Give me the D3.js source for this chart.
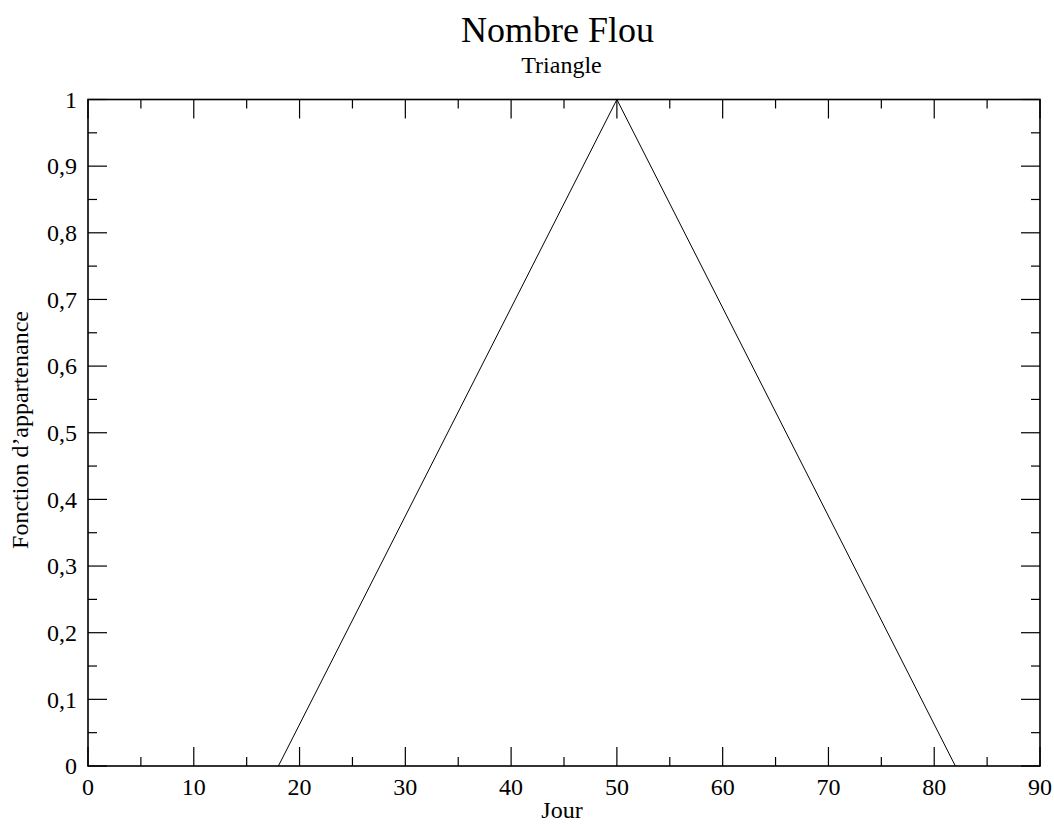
<!DOCTYPE html>
<html><head><meta charset="utf-8">
<script src="https://cdn.jsdelivr.net/npm/d3@7"></script>
<style>
html,body{margin:0;padding:0;background:#fff;}
svg{display:block;}
text{font-family:"Liberation Serif","DejaVu Serif",serif;fill:#000;}
</style></head>
<body>
<svg id="chart" width="1054" height="824"></svg>
<script>
const jours = [18, 50, 82];
const appartenance = [0, 1, 0];
const xTickValues = [0,10,20,30,40,50,60,70,80,90];
const yTickValues = [0,0.1,0.2,0.3,0.4,0.5,0.6,0.7,0.8,0.9,1];
const title = "Nombre Flou";
const subtitle = "Triangle";
const xLabel = "Jour";
const yLabel = "Fonction d\u2019appartenance";

const svg = d3.select("#chart");
const L = 88, R = 1040, T = 99.5, B = 766;
const x = d3.scaleLinear().domain([0,90]).range([L,R]);
const y = d3.scaleLinear().domain([0,1]).range([B,T]);
const fmt = d => d3.format(".1~f")(d).replace(".", ",");

const major = 19, minor = 9;
const g = svg.append("g");
// ticks
const xMinor = d3.range(5, 90, 10);
const yMinor = d3.range(0.05, 1, 0.1);
function tick(x1,y1,x2,y2){ g.append("line").attr("x1",x1).attr("y1",y1).attr("x2",x2).attr("y2",y2).attr("stroke","#000").attr("stroke-width",1.2); }
xTickValues.forEach(v=>{ const px=x(v); tick(px,B,px,B-major); tick(px,T,px,T+major); });
xMinor.forEach(v=>{ const px=x(v); tick(px,B,px,B-minor); tick(px,T,px,T+minor); });
yTickValues.forEach(v=>{ const py=y(v); tick(L,py,L+major,py); tick(R,py,R-major,py); });
yMinor.forEach(v=>{ const py=y(v); tick(L,py,L+minor,py); tick(R,py,R-minor,py); });

// frame
g.append("rect").attr("x",L).attr("y",T).attr("width",R-L).attr("height",B-T)
 .attr("fill","none").attr("stroke","#000").attr("stroke-width",1.6);

// tick labels
g.selectAll(".xl").data(xTickValues).join("text")
 .attr("x",d=>x(d)).attr("y",795).attr("text-anchor","middle").attr("font-size",24).text(d=>d);
g.selectAll(".yl").data(yTickValues).join("text")
 .attr("x",77).attr("y",d=>y(d)).attr("dy","0.34em").attr("text-anchor","end").attr("font-size",24).text(d=>fmt(d));

// line
const pts = jours.map((d,i)=>[d,appartenance[i]]);
g.append("path").datum(pts)
 .attr("d", d3.line().x(d=>x(d[0])).y(d=>y(d[1])))
 .attr("fill","none").attr("stroke","#000").attr("stroke-width",1);

// titles
svg.append("text").attr("x",557.5).attr("y",42).attr("text-anchor","middle").attr("font-size",36).text(title);
svg.append("text").attr("x",561.5).attr("y",73).attr("text-anchor","middle").attr("font-size",24).text(subtitle);
svg.append("text").attr("x",562).attr("y",818).attr("text-anchor","middle").attr("font-size",24).text(xLabel);
svg.append("text").attr("transform","translate(28,430) rotate(-90)").attr("text-anchor","middle").attr("font-size",24).text(yLabel);
</script>
</body></html>
